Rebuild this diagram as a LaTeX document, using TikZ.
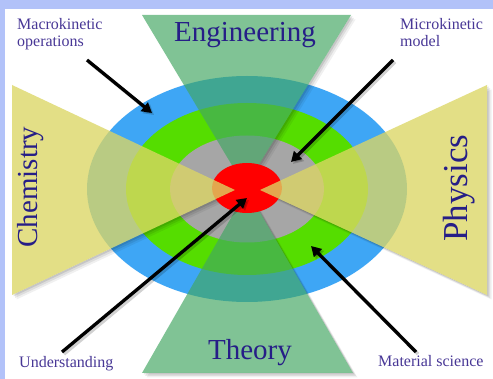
\documentclass[tikz,border=0pt]{standalone}
\usepackage{fontspec}
\setmainfont{Liberation Serif}
\usetikzlibrary{arrows.meta}
\definecolor{frameblue}{RGB}{178,194,249}
\definecolor{ringblue}{RGB}{62,166,245}
\definecolor{ringgreen}{RGB}{85,221,0}
\definecolor{ringgray}{RGB}{166,166,166}
\definecolor{ringred}{RGB}{255,0,0}
\definecolor{wedgegreen}{RGB}{66,167,98}
\definecolor{wedgeyellow}{RGB}{220,214,100}
\definecolor{labelnavy}{RGB}{38,30,135}
\definecolor{labelpurple}{RGB}{72,55,150}
\tikzset{
  biglbl/.style={font=\fontsize{29}{29}\selectfont, text=labelnavy, inner sep=0pt, anchor=base},
  smalllbl/.style={font=\fontsize{16}{17}\selectfont, text=labelpurple, inner sep=0pt, align=left, anchor=base west},
  arr/.style={line width=3.3pt, black, -{Triangle[length=10pt,width=11pt]}},
  arrshadow/.style={line width=3.5pt, black, opacity=0.18, -{Triangle[length=10pt,width=11pt]}, transform canvas={xshift=2pt, yshift=-2pt}},
  gwedge/.style={fill=wedgegreen, fill opacity=0.67},
  ywedge/.style={fill=wedgeyellow, fill opacity=0.78},
}
\begin{document}
\begin{tikzpicture}[x=1pt,y=-1pt]
\useasboundingbox (0,0) rectangle (493,379);
\fill[frameblue] (0,0) rectangle (493,379);
\fill[white] (5,9) rectangle (493,379);
% rings
\fill[ringblue] (247,189) ellipse [x radius=160, y radius=113];
\fill[ringgreen] (247,189) ellipse [x radius=121, y radius=86];
\fill[ringgray] (247,189) ellipse [x radius=77, y radius=53.5];
% wedge shadows, outside the wedges only
\begin{scope}[even odd rule]
\clip (0,0) rectangle (493,379)
  (142,15) -- (351,15) -- (245,187) -- cycle
  (142,373) -- (353,373) -- (247,190) -- cycle
  (12,85) -- (12,295) -- (235,190) -- cycle
  (487,85) -- (487,295) -- (260,190) -- cycle;
\foreach \d/\o in {1.5/0.10, 3/0.08, 4.5/0.06} {
  \begin{scope}[shift={(\d,\d)}]
    \fill[black, opacity=\o] (142,15) -- (351,15) -- (245,187) -- cycle;
    \fill[black, opacity=\o] (142,373) -- (353,373) -- (247,190) -- cycle;
    \fill[black, opacity=\o] (12,85) -- (12,295) -- (235,190) -- cycle;
    \fill[black, opacity=\o] (487,85) -- (487,295) -- (260,190) -- cycle;
  \end{scope}
}
\end{scope}
% green wedges
\fill[gwedge] (142,15) -- (351,15) -- (245,187) -- cycle;
\fill[gwedge] (142,373) -- (353,373) -- (247,190) -- cycle;
% red core
\fill[ringred] (247,188) ellipse [x radius=35, y radius=25];
% yellow wedges
\fill[ywedge] (12,85) -- (12,295) -- (235,190) -- cycle;
\fill[ywedge] (487,85) -- (487,295) -- (260,190) -- cycle;
% big labels
\node[biglbl] (eng) at (245,42) {Engineering};
\node[biglbl] (theo) at (250,360) {Theory};
\node[biglbl, rotate=90] (chem) at (37,187) {Chemistry};
\node[biglbl, rotate=90, font=\fontsize{35}{35}\selectfont] (phys) at (467,188) {Physics};
% small labels (anchor at the baseline of the last line)
\node[smalllbl] (macro) at (17,47) {Macrokinetic\\operations};
\node[smalllbl] (micro) at (400,47) {Microkinetic\\model};
\node[smalllbl] (und) at (19,368) {Understanding};
\node[smalllbl] (mat) at (378,367) {Material science};
% arrow end points
\coordinate (a1s) at (87,60);   \coordinate (a1e) at (152,113);
\coordinate (a2s) at (393,60);  \coordinate (a2e) at (291,162);
\coordinate (a3s) at (62,352);  \coordinate (a3e) at (247,198);
\coordinate (a4s) at (416,352); \coordinate (a4e) at (311,246);
\draw[arrshadow] (a1s) -- (a1e);
\draw[arrshadow] (a2s) -- (a2e);
\draw[arrshadow] (a3s) -- (a3e);
\draw[arrshadow] (a4s) -- (a4e);
\draw[arr] (a1s) -- (a1e);
\draw[arr] (a2s) -- (a2e);
\draw[arr] (a3s) -- (a3e);
\draw[arr] (a4s) -- (a4e);
\end{tikzpicture}
\end{document}
